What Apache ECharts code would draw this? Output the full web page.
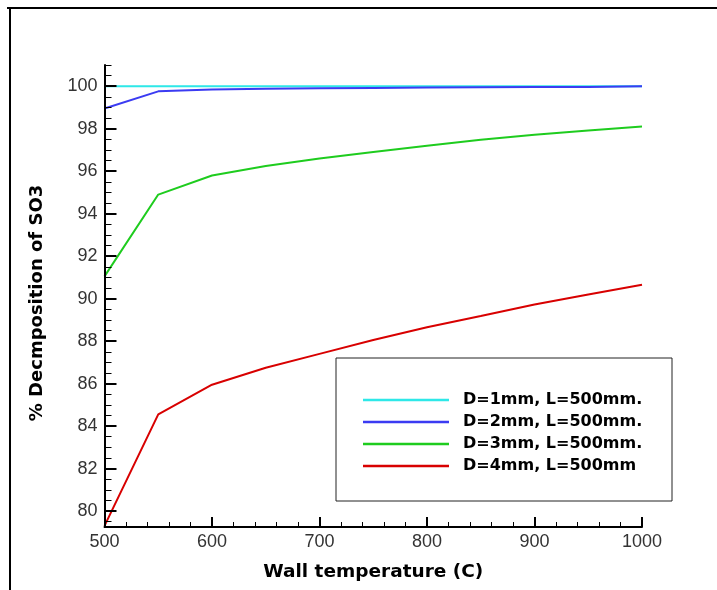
<!DOCTYPE html>
<html>
<head>
<meta charset="utf-8">
<title>SO3 decomposition</title>
<script src="https://cdn.jsdelivr.net/npm/echarts@6/dist/echarts.min.js"></script>
<style>
	html, body { margin: 0; padding: 0; background: #fff; }
	#chart { width: 717px; height: 590px; }
</style>
</head>
<body>
<div id="chart"></div>
<script>
// wall temperature (C)
var temps = [500, 550, 600, 650, 700, 750, 800, 850, 900, 950, 1000];
// % decomposition for each tube diameter
var d1 = [100, 100, 100, 100, 100, 100, 100, 100, 100, 100, 100];
var d2 = [98.95, 99.76, 99.85, 99.88, 99.9, 99.92, 99.94, 99.95, 99.96, 99.97, 100];
var d3 = [91.05, 94.9, 95.8, 96.25, 96.6, 96.9, 97.2, 97.48, 97.72, 97.92, 98.1];
var d4 = [79.3, 84.55, 85.95, 86.75, 87.4, 88.05, 88.65, 89.18, 89.72, 90.2, 90.65];
var names = ['D=1mm, L=500mm.', 'D=2mm, L=500mm.', 'D=3mm, L=500mm.', 'D=4mm, L=500mm'];
var colors = ['#2ee8e8', '#3b3bf2', '#1ecc1e', '#d80000'];

function pairs(vals) {
	var out = [];
	for (var i = 0; i < temps.length; i++) {
		out.push([temps[i], vals[i]]);
	}
	return out;
}

var chart = echarts.init(document.getElementById('chart'));

var labelFont = { fontFamily: 'Liberation Sans', fontSize: 18, color: '#333' };
var series = [d1, d2, d3, d4].map(function (vals, i) {
	return {
		name: names[i],
		type: 'line',
		data: pairs(vals),
		symbol: 'none',
		lineStyle: { color: colors[i], width: 2 },
		itemStyle: { color: colors[i] },
		z: 2
	};
});

var option = {
	animation: false,
	backgroundColor: '#fff',
	grid: { left: 104.5, right: 75, top: 65, bottom: 63 },
	xAxis: {
		type: 'value',
		min: 500,
		max: 1000,
		interval: 100,
		name: 'Wall temperature (C)',
		nameLocation: 'middle',
		nameGap: 36,
		nameTextStyle: { fontFamily: 'DejaVu Sans', fontWeight: 'bold', fontSize: 18.5, color: '#000' },
		axisLine: { lineStyle: { color: '#000', width: 2 } },
		axisTick: { inside: true, length: 10, lineStyle: { color: '#000', width: 2 } },
		minorTick: { show: true, splitNumber: 5, length: 5, lineStyle: { color: '#000', width: 1 } },
		axisLabel: {
			margin: 6, formatter: function (v) { return String(v); },
			fontFamily: labelFont.fontFamily, fontSize: labelFont.fontSize, color: labelFont.color
		},
		splitLine: { show: false }
	},
	yAxis: [{
		type: 'value',
		min: 79.25,
		max: 101,
		minInterval: 2,
		maxInterval: 2,
		z: 3,
		name: '% Decmposition of SO3',
		nameLocation: 'middle',
		nameGap: 58,
		nameTextStyle: {
			fontFamily: 'DejaVu Sans', fontWeight: 'bold', fontSize: 18, color: '#000',
			padding: [0, 14, 0, 0]
		},
		axisLine: { lineStyle: { color: '#000', width: 2 } },
		axisTick: { inside: true, length: 12, lineStyle: { color: '#000', width: 2 } },
		axisLabel: {
			margin: 7, showMinLabel: false, showMaxLabel: false,
			fontFamily: labelFont.fontFamily, fontSize: labelFont.fontSize, color: labelFont.color
		},
		splitLine: { show: false }
	}, {
		// only the small ticks every 0.5
		type: 'value',
		position: 'left',
		min: 79.25,
		max: 101,
		minInterval: 0.5,
		maxInterval: 0.5,
		z: 3,
		axisLine: { show: false },
		axisTick: { inside: true, length: 7, lineStyle: { color: '#000', width: 1 } },
		axisLabel: { show: false },
		splitLine: { show: false }
	}],
	legend: {
		orient: 'vertical',
		left: 363,
		top: 392,
		padding: 0,
		icon: 'rect',
		itemWidth: 86,
		itemHeight: 2.5,
		itemGap: 6,
		data: names,
		textStyle: {
			fontFamily: 'DejaVu Sans', fontWeight: 'bold', fontSize: 16, color: '#000',
			lineHeight: 16, padding: [0, 0, 0, 9]
		}
	},
	graphic: [
		{ type: 'rect', shape: { x: 336, y: 358, width: 336, height: 143 }, style: { fill: 'none', stroke: '#222', lineWidth: 1 } },
		{ type: 'line', shape: { x1: 7, y1: 8, x2: 717, y2: 8 }, style: { stroke: '#000', lineWidth: 2 } },
		{ type: 'line', shape: { x1: 10, y1: 8, x2: 10, y2: 590 }, style: { stroke: '#000', lineWidth: 2 } }
	],
	series: series
};

chart.setOption(option);
</script>
</body>
</html>
